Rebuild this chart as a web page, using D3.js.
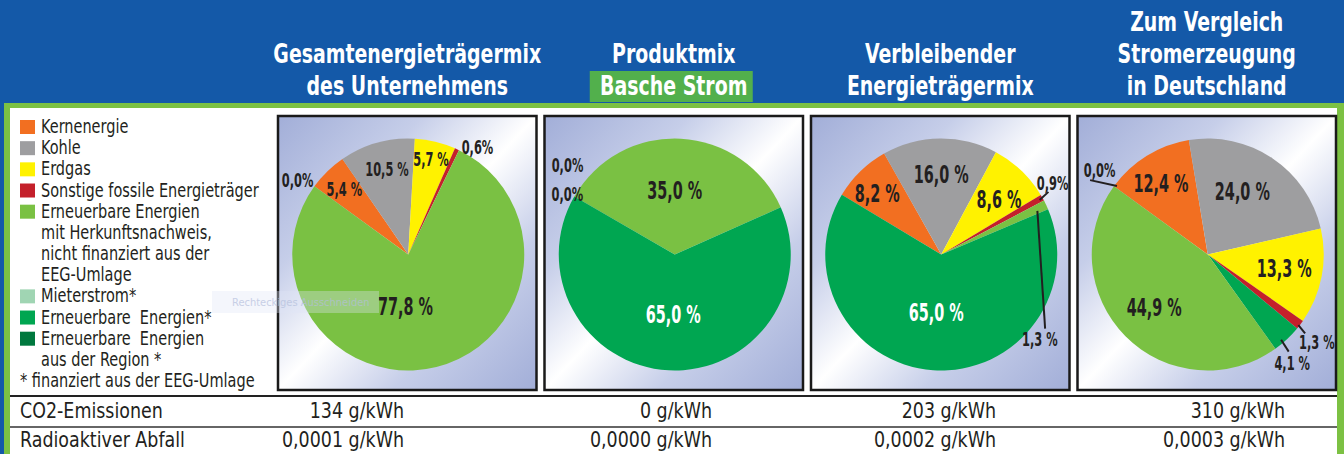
<!DOCTYPE html>
<html>
<head>
<meta charset="utf-8">
<script src="https://cdn.jsdelivr.net/npm/d3@7.9.0/dist/d3.min.js"></script>
<style>
  body { margin: 0; background: #1459a8; }
  svg { display: block; }
</style>
</head>
<body>
<svg id="chart" width="1344" height="454"></svg>
<script>
// ---- data ----
const columnTitles = [
  ['Gesamtenergieträgermix', 'des Unternehmens'],
  ['Produktmix', 'Basche Strom'],
  ['Verbleibender', 'Energieträgermix'],
  ['Zum Vergleich', 'Stromerzeugung', 'in Deutschland']
];

// slice order = drawing order (clockwise)
const mixUnternehmen = [['kern', 5.4], ['kohle', 10.5], ['erdgas', 5.7], ['sonstige', 0.6], ['hkn', 77.8], ['mieter', 0], ['eeg', 0], ['region', 0]];
const mixProdukt     = [['kern', 0], ['kohle', 0], ['erdgas', 0], ['sonstige', 0], ['hkn', 35.0], ['mieter', 0], ['eeg', 65.0], ['region', 0]];
const mixVerbleibend = [['kern', 8.2], ['kohle', 16.0], ['erdgas', 8.6], ['sonstige', 0.9], ['hkn', 1.3], ['mieter', 0], ['eeg', 65.0], ['region', 0]];
const mixDeutschland = [['kern', 12.4], ['kohle', 24.0], ['erdgas', 13.3], ['sonstige', 1.3], ['eeg', 4.1], ['hkn', 44.9], ['region', 0]];

const legendItems = [
  { key: 'kern', lines: ['Kernenergie'] },
  { key: 'kohle', lines: ['Kohle'] },
  { key: 'erdgas', lines: ['Erdgas'] },
  { key: 'sonstige', lines: ['Sonstige fossile Energieträger'] },
  { key: 'hkn', lines: ['Erneuerbare Energien', 'mit Herkunftsnachweis,', 'nicht finanziert aus der', 'EEG-Umlage'] },
  { key: 'mieter', lines: ['Mieterstrom*'] },
  { key: 'eeg', lines: ['Erneuerbare  Energien*'] },
  { key: 'region', lines: ['Erneuerbare  Energien', 'aus der Region *'] }
];
const legendNote = '* finanziert aus der EEG-Umlage';

const co2 = [134, 0, 203, 310];
const abfall = [0.0001, 0.0000, 0.0002, 0.0003];

// ---- styles / layout ----
const colors = {
  kern: '#f26f21', kohle: '#9e9ea0', erdgas: '#fff200', sonstige: '#c4202b',
  hkn: '#7ac143', mieter: '#a0d5b3', eeg: '#00a651', region: '#00783e'
};
const FONT = '"Liberation Sans Narrow","DejaVu Sans Condensed","Roboto Condensed","Liberation Sans",sans-serif';
const DARK = '#231f20';
const startAngles = [-54, -60, -59, -54];
const R = 116, pieCy = 254.5;

// label placement: angle nudge from slice middle (deg), radius factor, size, leader (absolute angle/k)
const labelLayout = [
  [
    { key: 'kern', k: 0.79, n: 0, big: false },
    { key: 'kohle', k: 0.76, n: 1.7, big: false },
    { key: 'erdgas', k: 0.84, n: 0, big: false },
    { key: 'sonstige', k: 1.10, n: 8, big: false, tight: true },
    { key: 'hkn', k: 0.45, n: 17, big: true },
    { key: 'region', k: 1.15, n: -2, big: false, tight: true }
  ],
  [
    { key: 'sonstige', k: 1.20, n: 9.6, big: false, tight: true },
    { key: 'region', k: 1.06, n: -0.8, big: false, tight: true },
    { key: 'hkn', k: 0.55, n: -3, big: true },
    { key: 'eeg', k: 0.52, n: -1.6, big: true, white: true }
  ],
  [
    { key: 'kern', k: 0.76, n: -2.4, big: true },
    { key: 'kohle', k: 0.69, n: 0.7, big: true },
    { key: 'erdgas', k: 0.69, n: 2.6, big: true },
    { key: 'sonstige', k: 1.14, n: -3.3, big: false, tight: true, leader: [[61, 0.97], [59.7, 1.07]] },
    { key: 'hkn', k: 1.12, n: 66, big: false, leader: [[65.6, 0.91], [125.5, 1.10]] },
    { key: 'eeg', k: 0.50, n: 1, big: true, white: true }
  ],
  [
    { key: 'kern', k: 0.73, n: -1.9, big: true },
    { key: 'kohle', k: 0.62, n: -5.1, big: true },
    { key: 'erdgas', k: 0.67, n: -0.5, big: true },
    { key: 'sonstige', k: 1.21, n: 1.7, big: false, leader: [[127.9, 0.99], [129, 1.08]] },
    { key: 'eeg', k: 1.19, n: 5.3, big: false, leader: [[139.3, 0.97], [140.2, 1.09]] },
    { key: 'hkn', k: 0.65, n: 0, big: true },
    { key: 'region', k: 1.18, n: 1.8, big: false, tight: true, leader: [[307, 0.98], [302.3, 1.2]] }
  ]
];
const valueRight = [404, 712, 996, 1285];

const de = d3.formatLocale({ decimal: ',', thousands: '.', grouping: [3], currency: ['', ' €'] });
const fmtPct = de.format('.1f');
const fmtAbfall = de.format('.4f');
const rad = d => d * Math.PI / 180;

const svg = d3.select('#chart');
const W = 1344, H = 454;

function textWidth(str, size, weight) {
  const t = svg.append('text').attr('font-family', FONT).attr('font-size', size)
    .attr('font-weight', weight).style('white-space', 'pre').text(str);
  const w = t.node().getComputedTextLength();
  t.remove();
  return w;
}

function addText(parent, x, y, str, o) {
  const g = parent.append('g').attr('transform', `translate(${x},${y}) scale(${o.k},1)`);
  return g.append('text')
    .attr('font-family', FONT)
    .attr('font-size', o.size)
    .attr('font-weight', o.weight || 'normal')
    .attr('text-anchor', o.anchor || 'start')
    .attr('fill', o.fill || DARK)
    .attr('dy', o.dy || 0)
    .style('white-space', 'pre')
    .text(str);
}

// background + frame
svg.append('rect').attr('width', W).attr('height', H).attr('fill', '#1459a8');
svg.append('rect').attr('x', 4).attr('y', 103).attr('width', W).attr('height', 400).attr('fill', '#7cc143');
svg.append('rect').attr('x', 10).attr('y', 108).attr('width', 1327).attr('height', 400).attr('fill', '#ffffff');

// gradient for panels
const defs = svg.append('defs');
const grad = defs.append('linearGradient').attr('id', 'panelGrad')
  .attr('x1', 0).attr('y1', 0).attr('x2', 1).attr('y2', 1);
[[0, '#a2aed8'], [0.28, '#c6cee9'], [0.5, '#ffffff'], [0.72, '#c6cee9'], [1, '#a2aed8']]
  .forEach(([o, c]) => grad.append('stop').attr('offset', o).attr('stop-color', c));

// panels
const xBand = d3.scaleBand().domain(d3.range(4)).range([278, 1336]).paddingInner(0.03);
const panelTop = 116, panelH = 274;

const kHead = 268 / textWidth('Gesamtenergieträgermix', 27, 'bold');
const kLeg = 218 / textWidth('Sonstige fossile Energieträger', 19.5, 'normal');
const kTab = 165 / textWidth('Radioaktiver Abfall', 21, 'normal');
const kLab = 55 / textWidth('77,8 %', 24, 'bold');

// headers
columnTitles.forEach((lines, i) => {
  const cx = xBand(i) + xBand.bandwidth() / 2;
  lines.forEach((line, j) => {
    const y = 95 - 32 * (lines.length - 1 - j);
    if (i === 1 && j === 1) {
      svg.append('rect').attr('x', cx - 84).attr('y', 71).attr('width', 163).attr('height', 31).attr('fill', '#52b04c');
    }
    addText(svg, cx, y, line, { k: kHead, size: 27, weight: 'bold', anchor: 'middle', fill: '#ffffff' });
  });
});

// pies
const pies = [mixUnternehmen, mixProdukt, mixVerbleibend, mixDeutschland];
const arc = d3.arc().innerRadius(0).outerRadius(R);
const polar = (deg, k) => d3.arc().innerRadius(k * R).outerRadius(k * R)
  .centroid({ startAngle: rad(deg), endAngle: rad(deg) });

pies.forEach((mix, i) => {
  const x0 = xBand(i);
  svg.append('rect').attr('x', x0).attr('y', panelTop).attr('width', xBand.bandwidth()).attr('height', panelH)
    .attr('fill', 'url(#panelGrad)').attr('stroke', '#1a1a1a').attr('stroke-width', 2.5);

  const cx = x0 + xBand.bandwidth() / 2 + 1;
  const g = svg.append('g').attr('transform', `translate(${cx},${pieCy})`);
  const s = startAngles[i];
  const arcs = d3.pie().sort(null).value(d => d[1])
    .startAngle(rad(s)).endAngle(rad(s + 360))(mix);

  g.selectAll('path').data(arcs.filter(a => a.value > 0)).join('path')
    .attr('d', arc)
    .attr('fill', d => colors[d.data[0]]);

  labelLayout[i].forEach(l => {
    const a = arcs.find(d => d.data[0] === l.key);
    const mid = (a.startAngle + a.endAngle) / 2 * 180 / Math.PI;
    const [lx, ly] = polar(mid + l.n, l.k);
    if (l.leader) {
      const [p1, p2] = l.leader.map(([ang, k]) => polar(ang, k));
      g.append('line').attr('x1', p1[0]).attr('y1', p1[1]).attr('x2', p2[0]).attr('y2', p2[1])
        .attr('stroke', DARK).attr('stroke-width', 2);
    }
    const txt = fmtPct(a.value) + (l.tight ? '%' : ' %');
    addText(g, lx, ly, txt, {
      k: kLab, size: l.big ? 24 : 19, weight: 'bold', anchor: 'middle',
      fill: l.white ? '#ffffff' : DARK, dy: '0.35em'
    });
  });
});

// faint screenshot tool ghost
svg.append('rect').attr('x', 212).attr('y', 291).attr('width', 167).attr('height', 22)
  .attr('fill', '#dfe6f6').attr('opacity', 0.35);
svg.append('text').attr('x', 232).attr('y', 306).attr('font-family', FONT).attr('font-size', 11)
  .attr('fill', '#b4bfdc').attr('opacity', 0.7).text('Rechteckiges Ausschneiden');

// legend
const step = 21.17;
let row = 0;
legendItems.forEach(item => {
  item.lines.forEach((line, j) => {
    const y = 133 + step * row;
    if (j === 0) {
      svg.append('rect').attr('x', 20).attr('y', y - 13).attr('width', 15).attr('height', 14)
        .attr('fill', colors[item.key]);
    }
    addText(svg, 41, y, line, { k: kLeg, size: 19.5 });
    row++;
  });
});
addText(svg, 20, 133 + step * row, legendNote, { k: kLeg, size: 19.5 });

// table
svg.append('line').attr('x1', 10).attr('x2', 1337).attr('y1', 396).attr('y2', 396)
  .attr('stroke', '#222').attr('stroke-width', 2);
svg.append('line').attr('x1', 10).attr('x2', 1337).attr('y1', 427).attr('y2', 427)
  .attr('stroke', '#333').attr('stroke-width', 1.5);

const tableRows = [
  ['CO2-Emissionen', co2.map(v => de.format('d')(v) + ' g/kWh'), 418],
  ['Radioaktiver Abfall', abfall.map(v => fmtAbfall(v) + ' g/kWh'), 447]
];
tableRows.forEach(([name, vals, y]) => {
  addText(svg, 20, y, name, { k: kTab, size: 21 });
  vals.forEach((v, i) => addText(svg, valueRight[i], y, v, { k: kTab, size: 21, anchor: 'end' }));
});
</script>
</body>
</html>
